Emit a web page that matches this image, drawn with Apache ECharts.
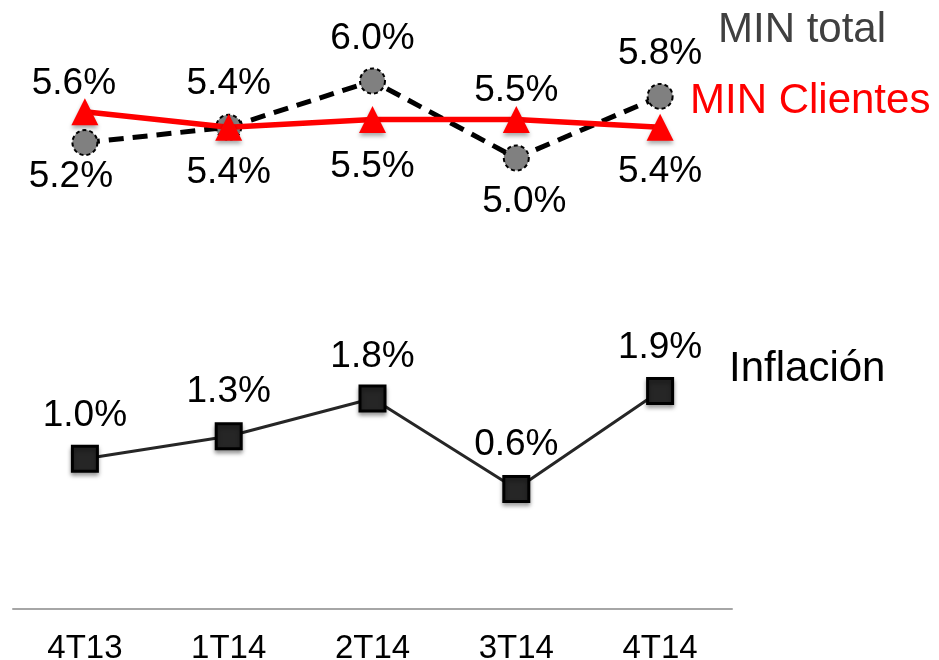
<!DOCTYPE html>
<html>
<head>
<meta charset="utf-8">
<script src="https://cdn.jsdelivr.net/npm/echarts@6/dist/echarts.min.js"></script>
<style>
html,body{margin:0;padding:0;background:#fff;}
#c{width:939px;height:660px;}
</style>
</head>
<body>
<div id="c"></div>
<script>
// Data
var categories = ['4T13', '1T14', '2T14', '3T14', '4T14'];
var minTotal = [5.2, 5.4, 6.0, 5.0, 5.8];
var minClientes = [5.6, 5.4, 5.5, 5.5, 5.4];
var inflacion = [1.0, 1.3, 1.8, 0.6, 1.9];

// Label placement (offsets of value labels from their points)
var totalLabelDx = [-14, 0, 0, 8, 0];
var totalLabelDy = [34, -43, -42, 44, -43];
var clientesLabelDx = [-11, 0, 0, 0, 0];
var clientesLabelDy = [-28, 46, 47, -29, 45];
var inflLabelDx = [0, 0, 0, 0, 0];
var inflLabelDy = [-43, -44, -42, -44, -43];

var FONT = 'Arial, "Liberation Sans", sans-serif';

function withLabels(values, dxs, dys) {
  return values.map(function (v, i) {
    return { value: v, label: { offset: [dxs[i], dys[i]] } };
  });
}

var chart = echarts.init(document.getElementById('c'));
var labelBase = {
  show: true,
  position: 'inside',
  fontSize: 37,
  fontFamily: FONT,
  color: '#000',
  formatter: function (p) { return p.value.toFixed(1) + '%'; }
};

chart.setOption({
  animation: false,
  backgroundColor: '#fff',
  grid: { left: 13, right: 207, top: 7, bottom: 51, containLabel: false, outerBoundsMode: 'none' },
  xAxis: {
    type: 'category',
    data: categories,
    boundaryGap: true,
    axisLine: { show: true, onZero: false, lineStyle: { color: '#a6a6a6', width: 2 } },
    axisTick: { show: false },
    splitLine: { show: false },
    axisLabel: { fontSize: 33, fontFamily: FONT, color: '#000', margin: 23 }
  },
  yAxis: [
    { type: 'value', show: false, min: -0.857, max: 6.961, splitLine: { show: false } },
    { type: 'value', show: false, min: -0.992, max: 6.992, splitLine: { show: false } }
  ],
  series: [
    {
      name: 'MIN total',
      type: 'line',
      yAxisIndex: 0,
      data: withLabels(minTotal, totalLabelDx, totalLabelDy),
      symbol: 'circle',
      symbolSize: 25,
      lineStyle: { color: '#000', width: 5, type: [15, 9] },
      itemStyle: { color: '#808080', borderColor: '#000', borderWidth: 2, borderType: [4, 3] },
      label: labelBase,
      z: 2
    },
    {
      name: 'MIN Clientes',
      type: 'line',
      yAxisIndex: 0,
      data: withLabels(minClientes, clientesLabelDx, clientesLabelDy),
      symbol: 'triangle',
      symbolSize: 27,
      lineStyle: { color: '#ff0000', width: 5.5 },
      itemStyle: { color: '#ff0000', shadowBlur: 4, shadowColor: 'rgba(0,0,0,0.35)', shadowOffsetY: 3 },
      label: labelBase,
      z: 3
    },
    {
      name: 'Inflación',
      type: 'line',
      yAxisIndex: 1,
      data: withLabels(inflacion, inflLabelDx, inflLabelDy),
      symbol: 'rect',
      symbolSize: 25,
      lineStyle: { color: '#262626', width: 3 },
      itemStyle: { color: '#262626', borderColor: '#000', borderWidth: 3, shadowBlur: 4, shadowColor: 'rgba(0,0,0,0.35)', shadowOffsetY: 3 },
      label: labelBase,
      z: 2
    }
  ],
  graphic: [
    { type: 'text', x: 718, y: 30, style: { text: 'MIN total', font: '42px ' + FONT, fill: '#404040', verticalAlign: 'middle' } },
    { type: 'text', x: 690, y: 101, style: { text: 'MIN Clientes', font: '42px ' + FONT, fill: '#ff0000', verticalAlign: 'middle' } },
    { type: 'text', x: 729, y: 369, style: { text: 'Inflación', font: '42px ' + FONT, fill: '#000', verticalAlign: 'middle' } }
  ]
});
</script>
</body>
</html>
